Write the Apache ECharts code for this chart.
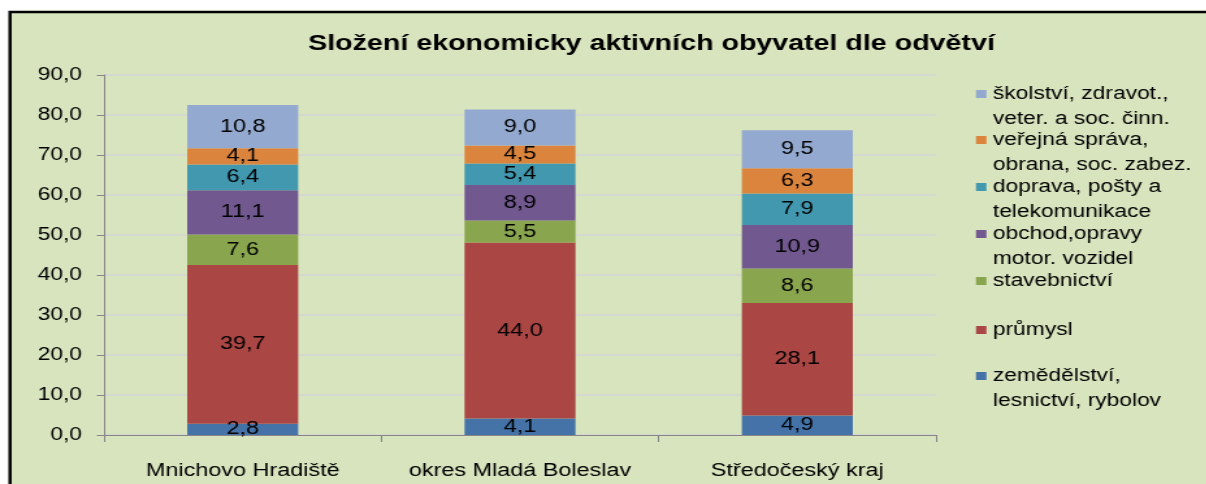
<!DOCTYPE html>
<html>
<head>
<meta charset="utf-8">
<title>Složení ekonomicky aktivních obyvatel dle odvětví</title>
<script src="https://cdn.jsdelivr.net/npm/echarts@6/dist/echarts.min.js"></script>
<style>
  html, body { margin: 0; padding: 0; background: #fff; overflow: hidden; }
  /* predloha je vodorovne roztazena, tak graf kreslime uzsi a roztahneme */
  #chart { width: 928px; height: 484px; transform: scaleX(1.3); transform-origin: 0 0; }
</style>
</head>
<body>
<div id="chart"></div>
<script>
// kategorie na ose x
const categories = ['Mnichovo Hradiště', 'okres Mladá Boleslav', 'Středočeský kraj'];

// odvětví (odspodu nahoru)
const seriesNames = [
  'zemědělství,\nlesnictví, rybolov',
  'průmysl',
  'stavebnictví',
  'obchod,opravy\nmotor. vozidel',
  'doprava, pošty a\ntelekomunikace',
  'veřejná správa,\nobrana, soc. zabez.',
  'školství, zdravot.,\nveter. a soc. činn.'
];
const seriesColors = ['#4572A7', '#AA4643', '#89A54E', '#71588F', '#4198AF', '#DB843D', '#93A9CF'];

// hodnoty v %
const zemedelstvi = [2.8, 4.1, 4.9];
const prumysl = [39.7, 44.0, 28.1];
const stavebnictvi = [7.6, 5.5, 8.6];
const obchod = [11.1, 8.9, 10.9];
const doprava = [6.4, 5.4, 7.9];
const verejnaSprava = [4.1, 4.5, 6.3];
const skolstvi = [10.8, 9.0, 9.5];
const seriesData = [zemedelstvi, prumysl, stavebnictvi, obchod, doprava, verejnaSprava, skolstvi];

// osa y
const yMin = 0;
const yMax = 90;
const yStep = 10;

const FONT = '"Liberation Sans", Arial, sans-serif';
const LINE_H = 25;
const SX = 1.3;          // vodorovne roztazeni
const W = 928;           // sirka divu pred roztazenim

// vodorovna souradnice z predlohy -> souradnice grafu
function px(x) {
  return x / SX;
}

function czNum(v) {
  return v.toFixed(1).replace('.', ',');
}

// legenda - kazda polozka zvlast, ctverecek u prvniho radku
const legendIconY = [376, 330, 281, 234, 187, 140, 94];
function getLegends() {
  let list = [];
  for (let i = 0; i < seriesNames.length; i++) {
    let twoLines = seriesNames[i].indexOf('\n') !== -1;
    let h = twoLines ? LINE_H + 8 : 8;
    list.push({
      show: true,
      data: [seriesNames[i]],
      left: px(976),
      top: legendIconY[i] - LINE_H / 2,
      padding: 0,
      itemWidth: 8,
      itemHeight: h,
      // ctverecek nahore, zbytek ikony prazdny
      icon: twoLines ? 'path://M0,0H8V8H0Z M0,' + (h - 0.1) + 'H0.05V' + h + 'H0Z' : 'rect',
      selectedMode: false,
      textStyle: {
        fontFamily: FONT,
        fontSize: 17.5,
        color: '#000',
        lineHeight: LINE_H
      }
    });
  }
  return list;
}

function getSeries() {
  let list = [];
  for (let i = 0; i < seriesNames.length; i++) {
    list.push({
      name: seriesNames[i],
      type: 'bar',
      stack: 'celkem',
      barWidth: '40%',
      itemStyle: { color: seriesColors[i] },
      label: {
        show: true,
        position: 'inside',
        color: '#000',
        fontFamily: FONT,
        fontSize: 18,
        formatter: function (p) { return czNum(p.value); }
      },
      data: seriesData[i]
    });
  }
  return list;
}

const chart = echarts.init(document.getElementById('chart'), null, { renderer: 'canvas' });
chart.setOption({
  backgroundColor: '#ffffff',
  animation: false,
  graphic: [{
    type: 'rect',
    z: -10,
    shape: { x: px(10), y: 12, width: 1000, height: 520 },
    style: { fill: '#D7E4BD', stroke: '#000', lineWidth: 2.5 }
  }],
  title: {
    text: 'Složení ekonomicky aktivních obyvatel dle odvětví',
    left: px(645),
    textAlign: 'center',
    top: 28,
    textStyle: { fontFamily: FONT, fontSize: 22, fontWeight: 'bold', color: '#000' }
  },
  legend: getLegends(),
  grid: { left: px(104), right: W - px(936), top: 75, bottom: 49, containLabel: false },
  xAxis: {
    type: 'category',
    data: categories,
    axisLine: { lineStyle: { color: '#868686', width: 1 } },
    axisTick: { show: true, length: 7, lineStyle: { color: '#868686' } },
    axisLabel: { interval: 0, hideOverlap: false, color: '#000', fontFamily: FONT, fontSize: 18, margin: 27 }
  },
  yAxis: {
    type: 'value',
    min: yMin,
    max: yMax,
    interval: yStep,
    axisLine: { show: true, lineStyle: { color: '#868686', width: 1 } },
    axisTick: { show: true, length: 5.5, lineStyle: { color: '#868686' } },
    splitLine: { lineStyle: { color: '#D4D4D4', width: 1.5 } },
    axisLabel: {
      color: '#000',
      fontFamily: FONT,
      fontSize: 17.5,
      margin: px(22),
      formatter: function (v) { return czNum(v); }
    }
  },
  series: getSeries()
});
</script>
</body>
</html>
